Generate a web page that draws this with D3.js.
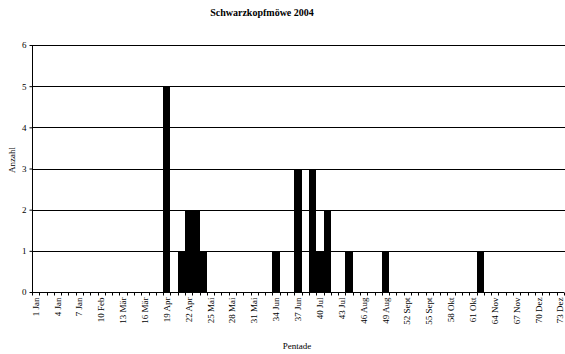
<!DOCTYPE html>
<html>
<head>
<meta charset="utf-8">
<script src="https://cdn.jsdelivr.net/npm/d3@7"></script>
<style>
body { margin: 0; background: #fff; }
text { font-family: "Liberation Serif", "Times New Roman", serif; fill: #000; }
</style>
</head>
<body>
<script>
// Pentaden 1..73
var pentads = d3.range(1, 74);
var counts = [
  0,0,0,0,0, 0,0,0,0,0, 0,0,0,0,0, 0,0,0,5,0,
  1,2,2,1,0, 0,0,0,0,0, 0,0,0,1,0, 0,3,0,3,1,
  2,0,0,1,0, 0,0,0,1,0, 0,0,0,0,0, 0,0,0,0,0,
  0,1,0,0,0, 0,0,0,0,0, 0,0,0
];
var tickPentads = [1,4,7,10,13,16,19,22,25,28,31,34,37,40,43,46,49,52,55,58,61,64,67,70,73];
var tickLabels = ["1 Jan","4 Jan","7 Jan","10 Feb","13 Mär","16 Mär","19 Apr","22 Apr","25 Mai",
  "28 Mai","31 Mai","34 Jun","37 Jun","40 Jul","43 Jul","46 Aug","49 Aug","52 Sept","55 Sept",
  "58 Okt","61 Okt","64 Nov","67 Nov","70 Dez","73 Dez"];
var yTicks = [0,1,2,3,4,5,6];

function draw()
{
    var width = 565, height = 354;
    var left = 32, right = 564, top = 45, bottom = 292;

    var svg = d3.select("body").append("svg")
        .attr("width", width)
        .attr("height", height);

    var x = d3.scaleBand().domain(pentads).range([left, right]).padding(0);
    var y = d3.scaleLinear().domain([0, 6]).range([bottom, top]);
    var edge = function (p) { return Math.round(left + (p - 1) * x.step()); };

    // gridlines
    svg.selectAll("line.grid")
       .data(yTicks.filter(function (d) { return d > 0; }))
       .enter().append("line")
       .attr("class", "grid")
       .attr("x1", left).attr("x2", right + 1)
       .attr("y1", function (d) { return Math.round(y(d)) + 0.5; })
       .attr("y2", function (d) { return Math.round(y(d)) + 0.5; })
       .attr("stroke", "#000").attr("stroke-width", 1);

    // bars
    svg.selectAll("rect.bar")
       .data(pentads.filter(function (p) { return counts[p - 1] > 0; }))
       .enter().append("rect")
       .attr("class", "bar")
       .attr("x", function (p) { return edge(p); })
       .attr("width", function (p) { return edge(p + 1) - edge(p); })
       .attr("y", function (p) { return Math.round(y(counts[p - 1])); })
       .attr("height", function (p) { return bottom - Math.round(y(counts[p - 1])); })
       .attr("fill", "#000")
       .attr("shape-rendering", "crispEdges");

    // y axis
    var yAxis = d3.axisLeft(y).tickValues(yTicks).tickFormat(d3.format("d")).tickSize(3).tickPadding(3);
    var gy = svg.append("g").attr("transform", "translate(" + (left + 0.5) + ",0)").call(yAxis);
    gy.selectAll("text").style("font-size", "9px").style("font-family", "Liberation Serif");
    gy.select(".domain").attr("d", "M0," + top + "V" + bottom);

    // x axis: ticks on band edges
    var gx = svg.append("g").attr("transform", "translate(0," + (bottom + 0.5) + ")");
    gx.append("line").attr("x1", left).attr("x2", right).attr("stroke", "#000");
    gx.selectAll("line.tk")
      .data(pentads.concat([74]))
      .enter().append("line")
      .attr("class", "tk")
      .attr("x1", function (p) { return edge(p) + 0.5; })
      .attr("x2", function (p) { return edge(p) + 0.5; })
      .attr("y1", 0).attr("y2", 3)
      .attr("stroke", "#000");

    gx.selectAll("text.tl")
      .data(tickPentads)
      .enter().append("text")
      .attr("class", "tl")
      .attr("transform", function (p) {
          return "translate(" + (x(p) + x.bandwidth() / 2 + 1) + ",5) rotate(-90)";
      })
      .attr("text-anchor", "end")
      .attr("dominant-baseline", "middle")
      .style("font-size", "9px")
      .text(function (p, i) { return tickLabels[i]; });

    // title and axis titles
    svg.append("text").attr("x", 262).attr("y", 16)
       .attr("text-anchor", "middle").style("font-size", "10px").style("font-weight", "bold")
       .text("Schwarzkopfmöwe 2004");

    svg.append("text").attr("transform", "translate(15,160) rotate(-90)")
       .attr("text-anchor", "middle").style("font-size", "9px")
       .text("Anzahl");

    svg.append("text").attr("x", 297).attr("y", 349)
       .attr("text-anchor", "middle").style("font-size", "9px")
       .text("Pentade");
}
window.onload = draw;
</script>
</body>
</html>
